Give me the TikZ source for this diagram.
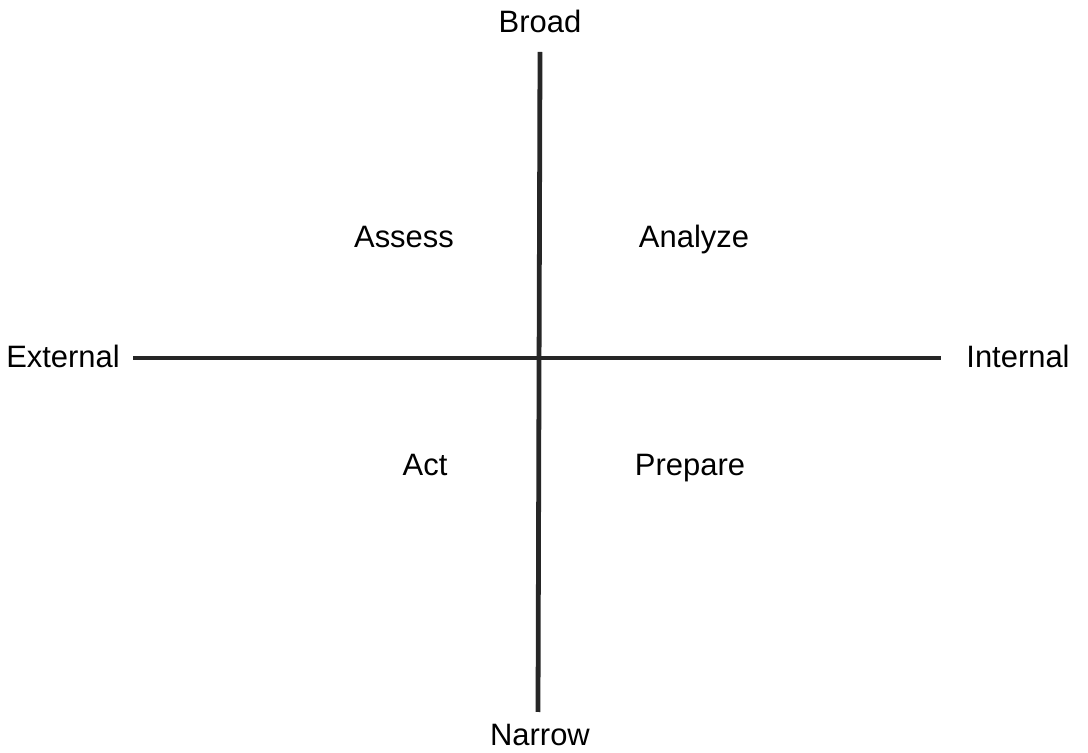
\documentclass[tikz,border=0pt]{standalone}
\usepackage{fontspec}
\setmainfont{Liberation Sans}
\begin{document}
\begin{tikzpicture}
        [x=0.025cm, y=-0.025cm,
        label/.style={inner sep=0pt, anchor=base, font=\fontsize{22}{26}\selectfont},
        axis/.style={line width=3.4pt, draw=black!85}]
        \useasboundingbox (0,0) rectangle (1088,753);
        \node[label] (broad) at (540,33) {Broad};
        \node[label] (narrow) at (540,746) {Narrow};
        \node[label] (external) at (63,368) {External};
        \node[label] (internal) at (1018,368) {Internal};
        \node[label] (assess) at (404,248) {Assess};
        \node[label] (analyze) at (694,248) {Analyze};
        \node[label] (act) at (425,476) {Act};
        \node[label] (prepare) at (690,476) {Prepare};

        \coordinate (top) at (540,52);
        \coordinate (bottom) at (538,712);
        \coordinate (left) at (133,358);
        \coordinate (right) at (941,358);

        \draw[axis] (top) -- (bottom);
        \draw[axis] (left) -- (right);
    \end{tikzpicture}
\end{document}
